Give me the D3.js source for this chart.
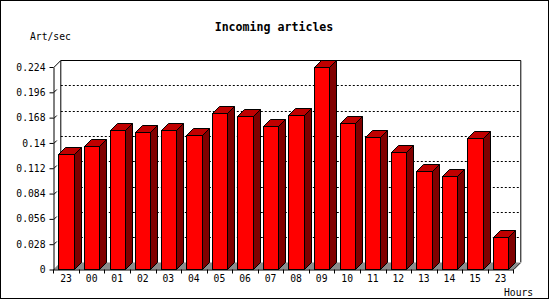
<!DOCTYPE html>
<html>
<head>
<meta charset="utf-8">
<script src="https://cdn.jsdelivr.net/npm/d3@7"></script>
<style>
  body { margin: 0; background: #fff; }
  text { font-family: "DejaVu Sans Mono", monospace; }
</style>
</head>
<body>
<div id="chart"></div>
<script>
// hours of the day (first and last are both 23)
const hours = ["23","00","01","02","03","04","05","06","07","08","09","10","11","12","13","14","15","23"];
// articles per second
const rates = [0.128,0.137,0.154,0.152,0.154,0.1485,0.173,0.170,0.159,0.171,0.2235,0.1625,0.147,0.1305,0.1095,0.103,0.146,0.0355];
const yTicks = [0,0.028,0.056,0.084,0.112,0.14,0.168,0.196,0.224];

const W = 550, H = 300;
const depth = 7;
const x0 = 53.3, x1 = 513.3, yBase = 269.5, yTop = 67;

const svg = d3.select("#chart").append("svg")
    .attr("width", W)
    .attr("height", H);

// outer frame
svg.append("rect")
    .attr("x", 0.5).attr("y", 0.5)
    .attr("width", 548).attr("height", 298)
    .attr("fill", "#fff").attr("stroke", "#000");

const x = d3.scaleBand()
    .domain(d3.range(hours.length))
    .range([x0, x1])
    .padding(0);

const y = d3.scaleLinear()
    .domain([0, 0.224])
    .range([yBase, yTop]);

// back wall
const back = svg.append("g").attr("transform", `translate(${depth},${-depth})`);

back.selectAll("line.grid")
    .data(yTicks.filter(d => d > 0 && d < 0.224))
    .enter().append("line")
    .attr("class", "grid")
    .attr("x1", x0 + 0.5).attr("x2", x1 + 0.5)
    .attr("y1", d => Math.round(y(d)) + 0.5)
    .attr("y2", d => Math.round(y(d)) + 0.5)
    .attr("stroke", "#000")
    .attr("stroke-dasharray", "2,2");

back.append("path")
    .attr("d", `M${x0 + 0.5},${yBase - 0.5} V${Math.round(yTop) + 0.5} H${x1 + 0.5} V${yBase - 0.5}`)
    .attr("fill", "none").attr("stroke", "#000");

// floor
svg.append("path")
    .attr("d", `M${x0},${yBase} L${x1},${yBase} L${x1 + depth},${yBase - depth} L${x0 + depth},${yBase - depth}Z`)
    .attr("fill", "#8c8c8c");

svg.append("line")
    .attr("x1", x0 + 0.5).attr("y1", Math.round(yTop) + 0.5)
    .attr("x2", x0 + depth + 0.5).attr("y2", Math.round(yTop) - depth + 0.5)
    .attr("stroke", "#000");
svg.append("line")
    .attr("x1", x1 + 0.5).attr("y1", yBase)
    .attr("x2", x1 + depth + 0.5).attr("y2", yBase - depth)
    .attr("stroke", "#000");

// bars
const bw = x.bandwidth() * 0.6;
const bars = svg.selectAll("g.bar")
    .data(rates)
    .enter().append("g")
    .attr("class", "bar");

bars.each(function(d, i) {
    const g = d3.select(this);
    const l = Math.round(x(i) + x.bandwidth() / 2 - bw / 2) + 0.5;
    const r = Math.round(x(i) + x.bandwidth() / 2 + bw / 2) + 0.5;
    const t = Math.round(y(d)) + 0.5;
    const b = yBase;
    g.append("path")
        .attr("d", `M${r},${t} L${r + depth},${t - depth} L${r + depth},${b - depth} L${r},${b}Z`)
        .attr("fill", "#800000").attr("stroke", "#000");
    g.append("path")
        .attr("d", `M${l},${t} L${l + depth},${t - depth} L${r + depth},${t - depth} L${r},${t}Z`)
        .attr("fill", "#c00000").attr("stroke", "#000");
    g.append("rect")
        .attr("x", l).attr("y", t)
        .attr("width", r - l).attr("height", b - t)
        .attr("fill", "#ff0000").attr("stroke", "#000");
});

// y axis
const yAxis = svg.append("g")
    .attr("transform", `translate(${x0 + 0.2},0)`)
    .call(d3.axisLeft(y)
        .tickValues(yTicks)
        .tickFormat(d => String(+d.toFixed(3)))
        .tickSize(4)
        .tickSizeOuter(0)
        .tickPadding(4));

yAxis.selectAll("text").attr("font-size", "9.7px").attr("font-family", "DejaVu Sans Mono").attr("fill", "#000");
yAxis.select(".domain").attr("stroke", "#000");

svg.selectAll("line.slant")
    .data(yTicks.slice(1, -1))
    .enter().append("line")
    .attr("class", "slant")
    .attr("x1", x0 + 0.5).attr("x2", x0 + 3.5)
    .attr("y1", d => Math.round(y(d)) + 0.5)
    .attr("y2", d => Math.round(y(d)) - 2.5)
    .attr("stroke", "#000");

// x axis
const xAxis = svg.append("g")
    .attr("transform", `translate(0,${yBase})`)
    .call(d3.axisBottom(x)
        .tickFormat(i => hours[i])
        .tickSize(0)
        .tickPadding(6));

xAxis.selectAll("text").attr("font-size", "9.7px").attr("font-family", "DejaVu Sans Mono").attr("fill", "#000");
xAxis.select(".domain").attr("stroke", "#000");

xAxis.selectAll("line.xt")
    .data(d3.range(hours.length + 1))
    .enter().append("line")
    .attr("class", "xt")
    .attr("x1", i => Math.round(x0 + i * x.step()) + 0.5)
    .attr("x2", i => Math.round(x0 + i * x.step()) + 0.5)
    .attr("y1", 0).attr("y2", 4)
    .attr("stroke", "#000");

// titles
svg.append("text")
    .attr("x", 274).attr("y", 30.5)
    .attr("text-anchor", "middle")
    .attr("font-size", "11.6px")
    .attr("font-weight", "bold")
    .text("Incoming articles");

svg.append("text")
    .attr("x", 30).attr("y", 40)
    .attr("font-size", "9.7px")
    .text("Art/sec");

svg.append("text")
    .attr("x", 504).attr("y", 296)
    .attr("font-size", "9.7px")
    .text("Hours");
</script>
</body>
</html>
